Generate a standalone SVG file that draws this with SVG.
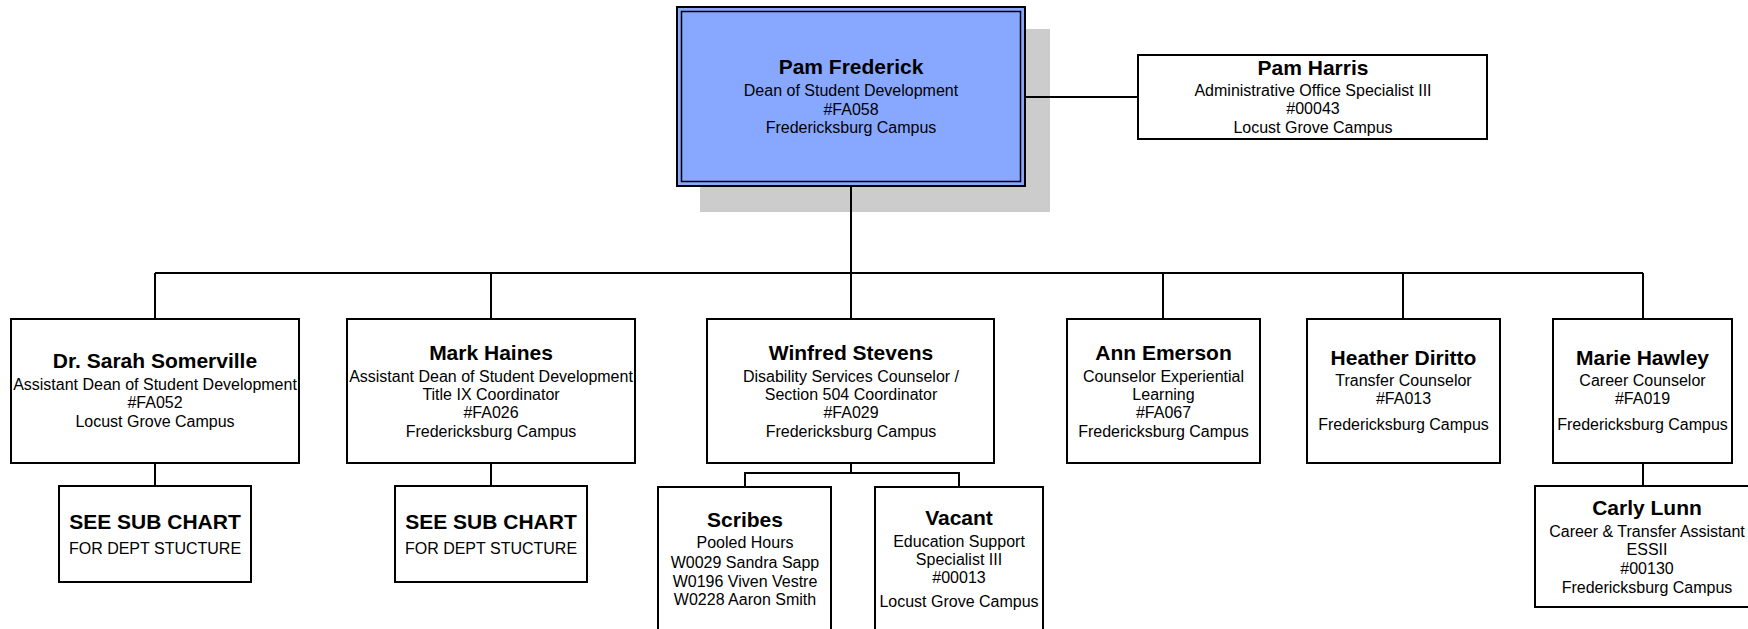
<svg xmlns="http://www.w3.org/2000/svg" width="1748" height="629" viewBox="0 0 1748 629">
<style>
  .box { fill: #ffffff; stroke: #000000; stroke-width: 2; }
  .conn { fill: none; stroke: #000000; stroke-width: 2; }
  .nm { font-family: "Liberation Sans", Arial, sans-serif; font-weight: bold; font-size: 21px; text-anchor: middle; fill: #000; }
  .tx { font-family: "Liberation Sans", Arial, sans-serif; font-size: 16px; text-anchor: middle; fill: #000; }
</style>
<rect width="1748" height="629" fill="#ffffff"/>
<g id="pam-frederick">
  <rect x="700" y="29" width="350" height="183" fill="#cccccc"/>
  <rect x="677" y="7" width="348" height="179" fill="#88a8ff" stroke="#000" stroke-width="2"/>
  <rect x="681.5" y="11.5" width="339" height="170" fill="none" stroke="#000" stroke-width="1.5"/>
  <text class="nm" x="851" y="74">Pam Frederick</text>
  <text class="tx" x="851" y="96">Dean of Student Development</text>
  <text class="tx" x="851" y="115">#FA058</text>
  <text class="tx" x="851" y="133">Fredericksburg Campus</text>
</g>
<g id="pam-harris">
  <rect class="box" x="1138" y="55" width="349" height="84"/>
  <text class="nm" x="1313" y="75">Pam Harris</text>
  <text class="tx" x="1313" y="96">Administrative Office Specialist III</text>
  <text class="tx" x="1313" y="114">#00043</text>
  <text class="tx" x="1313" y="133">Locust Grove Campus</text>
</g>
<g id="sarah-somerville">
  <rect class="box" x="11" y="319" width="288" height="144"/>
  <text class="nm" x="155" y="368">Dr. Sarah Somerville</text>
  <text class="tx" x="155" y="390">Assistant Dean of Student Development</text>
  <text class="tx" x="155" y="408">#FA052</text>
  <text class="tx" x="155" y="427">Locust Grove Campus</text>
</g>
<g id="mark-haines">
  <rect class="box" x="347" y="319" width="288" height="144"/>
  <text class="nm" x="491" y="360">Mark Haines</text>
  <text class="tx" x="491" y="382">Assistant Dean of Student Development</text>
  <text class="tx" x="491" y="400">Title IX Coordinator</text>
  <text class="tx" x="491" y="418">#FA026</text>
  <text class="tx" x="491" y="437">Fredericksburg Campus</text>
</g>
<g id="winfred-stevens">
  <rect class="box" x="707" y="319" width="287" height="144"/>
  <text class="nm" x="851" y="360">Winfred Stevens</text>
  <text class="tx" x="851" y="382">Disability Services Counselor /</text>
  <text class="tx" x="851" y="400">Section 504 Coordinator</text>
  <text class="tx" x="851" y="418">#FA029</text>
  <text class="tx" x="851" y="437">Fredericksburg Campus</text>
</g>
<g id="ann-emerson">
  <rect class="box" x="1067" y="319" width="193" height="144"/>
  <text class="nm" x="1163.5" y="360">Ann Emerson</text>
  <text class="tx" x="1163.5" y="382">Counselor Experiential</text>
  <text class="tx" x="1163.5" y="400">Learning</text>
  <text class="tx" x="1163.5" y="418">#FA067</text>
  <text class="tx" x="1163.5" y="437">Fredericksburg Campus</text>
</g>
<g id="heather-diritto">
  <rect class="box" x="1307" y="319" width="193" height="144"/>
  <text class="nm" x="1403.5" y="365">Heather Diritto</text>
  <text class="tx" x="1403.5" y="386">Transfer Counselor</text>
  <text class="tx" x="1403.5" y="404">#FA013</text>
  <text class="tx" x="1403.5" y="430">Fredericksburg Campus</text>
</g>
<g id="marie-hawley">
  <rect class="box" x="1553" y="319" width="179" height="144"/>
  <text class="nm" x="1642.5" y="365">Marie Hawley</text>
  <text class="tx" x="1642.5" y="386">Career Counselor</text>
  <text class="tx" x="1642.5" y="404">#FA019</text>
  <text class="tx" x="1642.5" y="430">Fredericksburg Campus</text>
</g>
<g id="sub-chart-1">
  <rect class="box" x="59" y="486" width="192" height="96"/>
  <text class="nm" x="155" y="529">SEE SUB CHART</text>
  <text class="tx" x="155" y="554">FOR DEPT STUCTURE</text>
</g>
<g id="sub-chart-2">
  <rect class="box" x="395" y="486" width="192" height="96"/>
  <text class="nm" x="491" y="529">SEE SUB CHART</text>
  <text class="tx" x="491" y="554">FOR DEPT STUCTURE</text>
</g>
<g id="scribes">
  <rect class="box" x="658" y="487" width="173" height="160"/>
  <text class="nm" x="745" y="527">Scribes</text>
  <text class="tx" x="745" y="548">Pooled Hours</text>
  <text class="tx" x="745" y="568">W0029 Sandra Sapp</text>
  <text class="tx" x="745" y="587">W0196 Viven Vestre</text>
  <text class="tx" x="745" y="605">W0228 Aaron Smith</text>
</g>
<g id="vacant">
  <rect class="box" x="875" y="487" width="168" height="160"/>
  <text class="nm" x="959" y="525">Vacant</text>
  <text class="tx" x="959" y="547">Education Support</text>
  <text class="tx" x="959" y="565">Specialist III</text>
  <text class="tx" x="959" y="583">#00013</text>
  <text class="tx" x="959" y="607">Locust Grove Campus</text>
</g>
<g id="carly-lunn">
  <rect class="box" x="1535" y="486" width="225" height="121"/>
  <text class="nm" x="1647" y="515">Carly Lunn</text>
  <text class="tx" x="1647" y="537">Career &amp; Transfer Assistant</text>
  <text class="tx" x="1647" y="555">ESSII</text>
  <text class="tx" x="1647" y="574">#00130</text>
  <text class="tx" x="1647" y="593">Fredericksburg Campus</text>
</g>
<g id="connectors">
  <path class="conn" d="M1025,97 H1138"/>
  <path class="conn" d="M851,187 V273"/>
  <path class="conn" d="M155,273 H1643"/>
  <path class="conn" d="M155,273 V318 M491,273 V318 M851,273 V318 M1163,273 V318 M1403,273 V318 M1643,273 V318"/>
  <path class="conn" d="M155,464 V485 M491,464 V485 M1643,464 V485"/>
  <path class="conn" d="M851,464 V473 M745,486 V473 H959 V486"/>
</g>
</svg>
